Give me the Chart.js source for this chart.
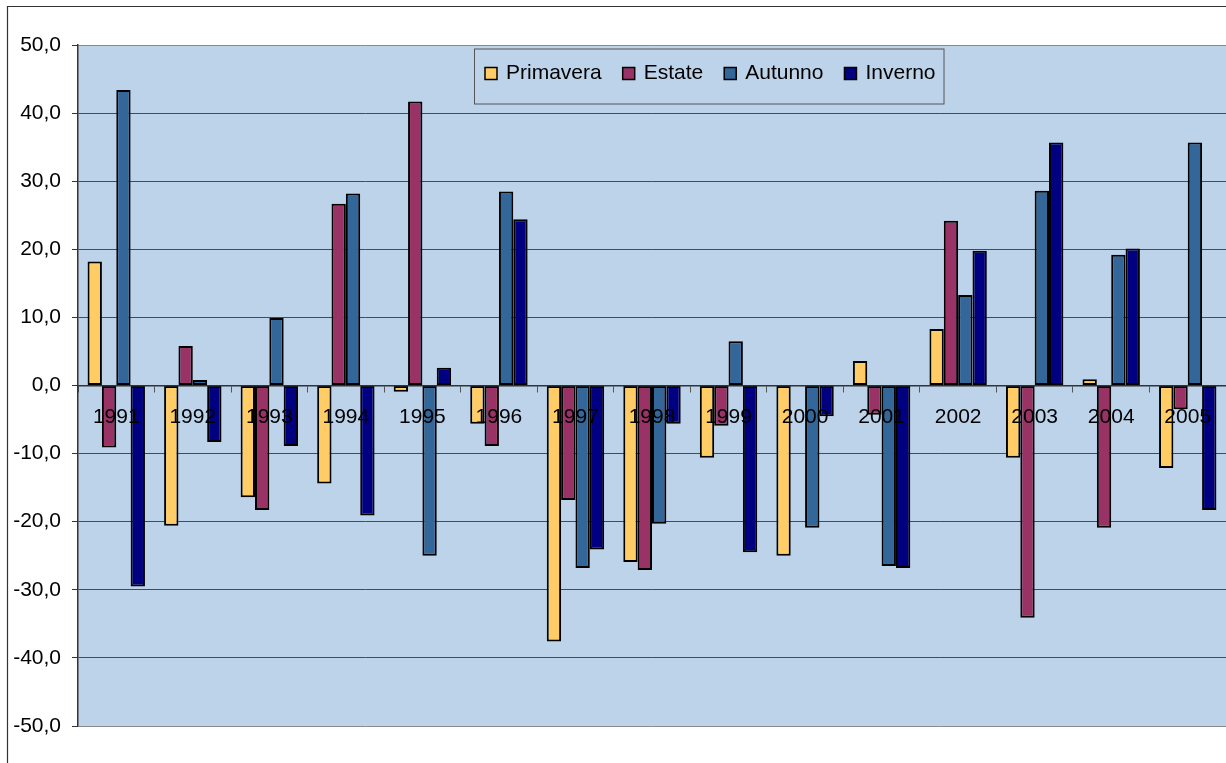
<!DOCTYPE html>
<html>
<head>
<meta charset="utf-8">
<script src="https://cdn.jsdelivr.net/npm/chart.js@4/dist/chart.umd.min.js"></script>
<style>
  html, body { margin: 0; padding: 0; background: #ffffff; }
  canvas { display: block; }
</style>
</head>
<body>
<canvas id="chart" width="1226" height="763"></canvas>
<script>
// Seasonal deviations per year
const years = ['1991','1992','1993','1994','1995','1996','1997','1998','1999','2000','2001','2002','2003','2004','2005'];
const primavera = [18.2, -20.6, -16.4, -14.4, -0.9, -5.6, -37.6, -25.9, -10.6, -25.0, 3.6, 8.3, -10.6, 0.9, -12.1];
const estate    = [-9.1, 5.8, -18.3, 26.7, 41.7, -8.9, -16.8, -27.1, -5.9, 0, -4.3, 24.2, -34.1, -20.9, -3.5];
const autunno   = [43.4, 0.8, 9.9, 28.2, -25.0, 28.5, -26.8, -20.3, 6.5, -20.9, -26.5, 13.3, 28.6, 19.2, 35.7];
const inverno   = [-29.5, -8.3, -8.9, -19.1, 2.6, 24.4, -24.1, -5.6, -24.5, -4.5, -26.8, 19.8, 35.7, 20.1, -18.3];

const seriesNames  = ['Primavera', 'Estate', 'Autunno', 'Inverno'];
const seriesValues = [primavera, estate, autunno, inverno];
const seriesColors = ['#FFCC66', '#993366', '#336699', '#000080'];

const yMin = -50, yMax = 50, yStep = 10;
const formatTick = v => Number(v).toFixed(1).replace('.', ',');

const FONT = '"Liberation Sans", Arial, sans-serif';
const PLOT_BG = '#BDD3EA';

// Light-blue plot area plus the outer frame lines
const backgroundPlugin = {
  id: 'plotBackground',
  beforeDraw(chart) {
    const { ctx, chartArea: a } = chart;
    ctx.save();
    ctx.fillStyle = PLOT_BG;
    ctx.fillRect(a.left, a.top, a.right - a.left, a.bottom - a.top);
    ctx.strokeStyle = '#333333';
    ctx.lineWidth = 1.2;
    ctx.beginPath();
    ctx.moveTo(7.5, chart.height);
    ctx.lineTo(7.5, 6.5);
    ctx.lineTo(chart.width, 6.5);
    ctx.stroke();
    ctx.restore();
  }
};

// Boxed legend sitting inside the top of the plot area
const boxLegendPlugin = {
  id: 'boxLegend',
  afterDatasetsDraw(chart) {
    const { ctx } = chart;
    const boxX = 474, boxY = 48.5, boxH = 55;
    const sq = 13, textGap = 8, itemGap = 21, padL = 11;
    ctx.save();
    ctx.font = '21px ' + FONT;
    const items = chart.data.datasets.map(ds => ({
      label: ds.label, color: ds.backgroundColor, w: ctx.measureText(ds.label).width
    }));
    let total = padL;
    items.forEach((it, i) => { total += sq + textGap + it.w + (i < items.length - 1 ? itemGap : 0); });
    total += 8;
    ctx.fillStyle = PLOT_BG;
    ctx.fillRect(boxX, boxY, total, boxH);
    ctx.strokeStyle = '#555555';
    ctx.lineWidth = 1;
    ctx.strokeRect(boxX + 0.5, boxY + 0.5, total, boxH);
    let x = boxX + padL;
    const cy = boxY + 25;
    items.forEach(it => {
      ctx.fillStyle = it.color;
      ctx.fillRect(x, cy - 6, sq - 1, sq - 1);
      ctx.strokeStyle = '#000000';
      ctx.lineWidth = 1.5;
      ctx.strokeRect(x, cy - 6, sq - 1, sq - 1);
      ctx.fillStyle = '#000000';
      ctx.textBaseline = 'middle';
      ctx.textAlign = 'left';
      ctx.fillText(it.label, x + sq + textGap, cy);
      x += sq + textGap + it.w + itemGap;
    });
    ctx.restore();
  }
};

new Chart(document.getElementById('chart'), {
  type: 'bar',
  data: {
    labels: years,
    datasets: seriesNames.map((name, i) => ({
      label: name,
      data: seriesValues[i],
      backgroundColor: seriesColors[i],
      borderColor: '#000000',
      borderWidth: 2,
      borderSkipped: false,
      categoryPercentage: 0.75,
      barPercentage: 1.0
    }))
  },
  options: {
    responsive: false,
    devicePixelRatio: 1,
    animation: false,
    layout: { padding: { left: 0, top: 45, right: 0, bottom: 37 } },
    plugins: {
      legend: { display: false },
      tooltip: { enabled: false }
    },
    scales: {
      x: {
        position: { y: 0 },
        grid: {
          display: true,
          drawOnChartArea: false,
          drawTicks: true,
          tickLength: 6,
          tickColor: '#555555',
          offset: true
        },
        border: { display: true, color: '#333333', width: 1.5, z: 1 },
        ticks: {
          z: 1,
          color: '#000000',
          font: { family: FONT, size: 21 },
          padding: 13,
          maxRotation: 0,
          autoSkip: false
        }
      },
      y: {
        min: yMin,
        max: yMax,
        afterFit(scale) { scale.width = 78; },
        grid: {
          color: ctx => (ctx.tick && Math.abs(ctx.tick.value) === 50) ? '#8a8a8a' : '#4a4a4a',
          lineWidth: 1,
          tickLength: 6,
          tickColor: '#333333'
        },
        border: { display: true, color: '#333333', width: 1.5 },
        ticks: {
          stepSize: yStep,
          color: '#000000',
          font: { family: FONT, size: 21 },
          padding: 11,
          callback: v => formatTick(v)
        }
      }
    }
  },
  plugins: [backgroundPlugin, boxLegendPlugin]
});
</script>
</body>
</html>
